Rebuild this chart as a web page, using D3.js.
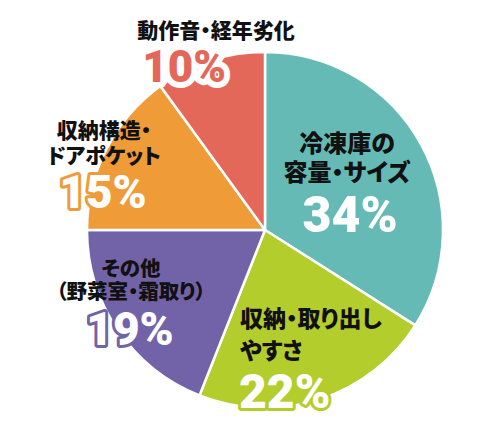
<!DOCTYPE html>
<html>
<head>
<meta charset="utf-8">
<script src="https://cdn.jsdelivr.net/npm/d3@7"></script>
<style>
    html, body { margin: 0; padding: 0; background: #ffffff; }
    svg { display: block; }
</style>
</head>
<body>
<script>
// chart data
var categories = ["冷凍庫の容量・サイズ", "収納・取り出しやすさ", "その他（野菜室・霜取り）",
    "収納構造・ドアポケット", "動作音・経年劣化"];
var values = [34, 22, 19, 15, 10];
var labelLines = [
    ["冷凍庫の", "容量・サイズ"],
    ["収納・取り出し", "やすさ"],
    ["その他", "（野菜室・霜取り）"],
    ["収納構造・", "ドアポケット"],
    ["動作音・経年劣化"]
];
var colors = ["#66bab5", "#b3cd2d", "#7262a8", "#ee9b38", "#e4685a"];

// label layout (relative to the pie center)
var layout = [
    {x: 82, y: -78, size: 24, gap: 29, anchor: "middle", px: 85, py: 2, psize: 50, style: "plain"},
    {x: -25, y: 97, size: 23, gap: 32, anchor: "start", px: -26, py: 178, psize: 48, style: "outline"},
    {x: -134, y: 46, size: 20.5, gap: 23, anchor: "middle", px: -135, py: 115, psize: 46, style: "outline"},
    {x: -161, y: -92, size: 21, gap: 25, anchor: "middle", px: -162, py: -22, psize: 46, style: "outline"},
    {x: -49, y: -192, size: 21, gap: 22, anchor: "middle", px: -81, py: -148, psize: 44, style: "glow"}
];

var width = 500, height = 436;
var cx = 265, cy = 230, radius = 178;

var svg = d3.select("body").append("svg")
    .attr("width", width)
    .attr("height", height);

var g = svg.append("g")
    .attr("transform", "translate(" + cx + "," + cy + ")");

var pie = d3.pie().sort(null).value(function(d){ return d; });
var arc = d3.arc().innerRadius(0).outerRadius(radius);

g.selectAll("path.slice")
    .data(pie(values))
    .enter()
    .append("path")
    .attr("class", "slice")
    .attr("d", arc)
    .attr("fill", function(d, i){ return colors[i]; })
    .attr("stroke", "#ffffff")
    .attr("stroke-width", 2.5)
    .attr("stroke-linejoin", "round");

var jpFont = "'Noto Sans CJK JP', 'Noto Sans', sans-serif";
var numFont = "Roboto, 'Liberation Sans', sans-serif";

labelLines.forEach(function(lines, i){
    var L = layout[i];
    lines.forEach(function(t, j){
        g.append("text")
            .text(t)
            .attr("x", L.x)
            .attr("y", L.y + j * L.gap)
            .attr("text-anchor", L.anchor)
            .style("font-family", jpFont)
            .style("font-weight", 900)
            .style("font-size", L.size + "px")
            .style("font-feature-settings", "'palt' 1")
            .style("fill", "#111111");
    });

    var pct = g.append("text")
        .text(values[i] + "%")
        .attr("x", L.px)
        .attr("y", L.py)
        .attr("text-anchor", L.anchor)
        .style("font-family", numFont)
        .style("font-weight", 900)
        .style("font-size", L.psize + "px")
        .style("paint-order", "stroke")
        .style("stroke-linejoin", "round");

    if (L.style == "plain") {
        pct.style("fill", "#ffffff");
    } else if (L.style == "outline") {
        pct.style("fill", "#ffffff")
            .style("stroke", colors[i])
            .style("stroke-width", 6);
    } else {
        pct.style("fill", colors[i])
            .style("stroke", "#ffffff")
            .style("stroke-width", 12);
    }
});
</script>
</body>
</html>
